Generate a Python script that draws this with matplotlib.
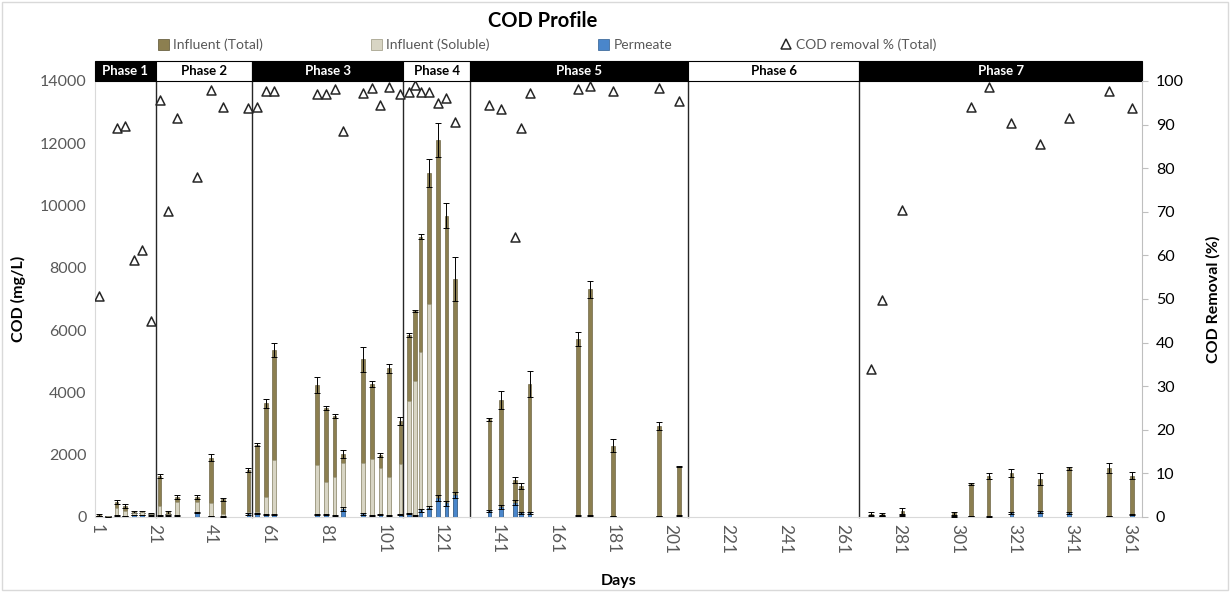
import matplotlib
matplotlib.use("Agg")
import matplotlib.pyplot as plt
import matplotlib.transforms as mtransforms
from matplotlib.patches import Rectangle
from matplotlib.lines import Line2D
import numpy as np

plt.rcParams['font.family'] = ['Lato', 'DejaVu Sans']

# ---------------- data ----------------
days = [2, 5, 8, 11, 14, 17, 20,
        23, 26, 29, 36, 41, 45, 54,
        57, 60, 63, 78, 81, 84, 87, 94, 97, 100, 103, 107,
        110, 112, 114, 117, 120, 123, 126,
        138, 142, 147, 149, 152, 169, 173, 181, 197, 204,
        271, 275, 282, 300, 306, 312, 320, 330, 340, 354, 362]
influent_total = [60, 30, 490, 350, 170, 170, 120,
                  1315, 150, 650, 650, 1900, 570, 1510,
                  2320, 3650, 5360, 4240, 3510, 3240, 2020, 5060, 4270, 1990, 4770, 3090,
                  5840, 6610, 9000, 11040, 12110, 9670, 7640,
                  3140, 3760, 1190, 1000, 4260, 5720, 7310, 2290, 2920, 1620,
                  90, 100, 190, 120, 1060, 1320, 1400, 1220, 1560, 1570, 1320]
influent_total_err = [30, 10, 60, 60, 30, 30, 20,
                      60, 40, 60, 60, 110, 50, 50,
                      50, 150, 220, 270, 60, 60, 140, 400, 110, 70, 150, 130,
                      70, 40, 80, 450, 550, 400, 700,
                      50, 280, 100, 90, 420, 230, 280, 200, 120, 30,
                      80, 40, 100, 40, 40, 100, 130, 200, 40, 170, 110]
influent_soluble = [40, 30, 290, 200, 130, 150, 100,
                    360, 100, 490, 490, 460, 100, 150,
                    150, 650, 1830, 1670, 1130, 1300, 1720, 1750, 1850, 1560, 1270, 1690,
                    3730, 4380, 5310, 6830, 500, 0, 0,
                    0, 0, 0, 0, 0, 0, 0, 0, 0, 0,
                    0, 0, 0, 0, 0, 0, 0, 0, 0, 0, 0]
permeate = [30, 10, 40, 30, 60, 60, 50,
            50, 40, 50, 140, 30, 20, 100,
            120, 80, 80, 80, 80, 60, 260, 100, 60, 80, 60, 90,
            110, 50, 210, 300, 600, 440, 700,
            190, 330, 450, 140, 140, 60, 50, 30, 30, 60,
            50, 30, 40, 20, 30, 20, 140, 170, 130, 30, 70]
permeate_err = [10, 5, 10, 10, 10, 10, 10,
                10, 10, 10, 20, 10, 10, 20,
                20, 20, 20, 20, 20, 20, 60, 20, 20, 20, 20, 20,
                20, 10, 40, 50, 100, 80, 100,
                30, 60, 80, 30, 30, 20, 10, 10, 10, 20,
                20, 10, 10, 10, 10, 10, 30, 30, 30, 10, 20]

removal_days = [2, 8, 11, 14, 17, 20,
                23, 26, 29, 36, 41, 45, 54, 57, 60, 63,
                78, 81, 84, 87, 94, 97, 100, 103, 107,
                110, 112, 114, 117, 120, 123, 126,
                138, 142, 147, 149, 152, 169, 173, 181, 197, 204,
                271, 275, 282, 306, 312, 320, 330, 340, 354, 362]
removal_pct = [50.7, 89.2, 89.6, 58.9, 61.2, 45.0,
               95.6, 70.2, 91.4, 78.0, 97.9, 94.1, 93.7, 94.0, 97.7, 97.8,
               97.0, 97.0, 98.1, 88.5, 97.2, 98.3, 94.5, 98.6, 97.0,
               97.4, 99.1, 97.4, 97.4, 95.0, 96.0, 90.7,
               94.5, 93.5, 64.3, 89.3, 97.2, 98.1, 98.9, 97.7, 98.3, 95.5,
               33.9, 49.8, 70.4, 94.1, 98.7, 90.3, 85.5, 91.4, 97.7, 93.7]

phase_names = ["Phase 1", "Phase 2", "Phase 3", "Phase 4", "Phase 5", "Phase 6", "Phase 7"]
phase_bounds = [0.5, 21.7, 55.3, 108.0, 131.3, 207.4, 267.0, 365.5]

x_ticks = list(range(1, 362, 20))

# ---------------- style ----------------
c_total = "#8C7F50"
c_sol = "#D8D5C4"
c_perm = "#4A86CB"
grey = "#595959"

fig = plt.figure(figsize=(12.31, 5.92), dpi=100)
ax = fig.add_axes([95 / 1231, 75 / 592, 1047 / 1231, 436 / 592])
ax2 = ax.twinx()

bw = 1.3
ekw = dict(ecolor="black", elinewidth=0.7, capsize=2, capthick=0.7)
ax.bar(days, influent_total, width=bw, color=c_total, edgecolor="#5a5230",
       linewidth=0.4, yerr=influent_total_err, error_kw=ekw, zorder=2)
ax.bar(days, influent_soluble, width=bw, color=c_sol, edgecolor="#9a977f",
       linewidth=0.4, zorder=3)
ax.bar(days, permeate, width=bw, color=c_perm, edgecolor="#2f5d90",
       linewidth=0.4, yerr=permeate_err, error_kw=ekw, zorder=4)

ax.set_xlim(0.5, 365.5)
ax.set_ylim(0, 14000)
ax.set_yticks(range(0, 14001, 2000))
ax.set_xticks(x_ticks)
ax.set_xticklabels([str(t) for t in x_ticks], rotation=-90, fontsize=12.5, color=grey)
ax.tick_params(axis="y", labelsize=11.5, colors=grey, length=0, pad=6)
ax.tick_params(axis="x", length=0, pad=5)
for s in ["top", "right"]:
    ax.spines[s].set_visible(False)
ax.spines["left"].set_color("#D9D9D9")
ax.spines["bottom"].set_color("#D9D9D9")

ax2.scatter(removal_days, removal_pct, marker="^", s=42, facecolors="white",
            edgecolors="#262626", linewidths=1.1, zorder=5)
ax2.set_ylim(0, 100)
ax2.set_yticks(range(0, 101, 10))
ax2.tick_params(axis="y", labelsize=11.5, colors=grey, length=4, pad=6)
for t in ax2.get_yticklabels():
    t.set_color("black")
for s in ["top", "left", "bottom"]:
    ax2.spines[s].set_visible(False)
ax2.spines["right"].set_color("#BFBFBF")
ax2.tick_params(axis="y", color="#BFBFBF")

# phase header and divider lines
trans = mtransforms.blended_transform_factory(ax.transData, ax.transAxes)
hh = 20 / 436
for i, name in enumerate(phase_names):
    x0, x1 = phase_bounds[i], phase_bounds[i + 1]
    dark = (i % 2 == 0)
    ax.add_patch(Rectangle((x0, 1.0), x1 - x0, hh, transform=trans, clip_on=False,
                           facecolor="black" if dark else "white",
                           edgecolor="black", linewidth=0.8, zorder=6))
    ax.text((x0 + x1) / 2, 1.0 + hh / 2, name, transform=trans, ha="center", va="center",
            fontsize=9.5, fontweight="bold", color="white" if dark else "black", zorder=7)
for b in phase_bounds[1:-1]:
    ax.plot([b, b], [0, 1.0], transform=trans, color="#262626", linewidth=1.0,
            clip_on=False, zorder=1)

# labels
ax.set_ylabel("COD (mg/L)", fontsize=11.5, fontweight="bold", labelpad=10)
ax2.set_ylabel("COD Removal (%)", fontsize=11.5, fontweight="bold", labelpad=16)
ax.set_xlabel("Days", fontsize=11.5, fontweight="bold", labelpad=14)
fig.text(543 / 1231, 1 - 21 / 592, "COD Profile", ha="center", va="center",
         fontsize=14.5, fontweight="bold")

handles = [Rectangle((0, 0), 1, 1, facecolor=c_total, edgecolor="#5a5230", linewidth=0.5),
           Rectangle((0, 0), 1, 1, facecolor=c_sol, edgecolor="#9a977f", linewidth=0.5),
           Rectangle((0, 0), 1, 1, facecolor=c_perm, edgecolor="#2f5d90", linewidth=0.5),
           Line2D([], [], marker="^", linestyle="none", markerfacecolor="white",
                  markeredgecolor="#262626", markersize=7, markeredgewidth=1.1)]
leg = fig.legend(handles, ["Influent (Total)", "Influent (Soluble)", "Permeate",
                           "COD removal % (Total)"],
                 loc="center", bbox_to_anchor=(547 / 1231, 1 - 45 / 592), ncol=4,
                 frameon=False, fontsize=10, columnspacing=7.8, handlelength=0.8,
                 handleheight=0.8, handletextpad=0.3)
for t in leg.get_texts():
    t.set_color(grey)

fig.add_artist(Rectangle((2 / 1231, 2 / 592), 1226 / 1231, 588 / 592,
                         transform=fig.transFigure, fill=False,
                         edgecolor="#D9D9D9", linewidth=1.0))

fig.savefig("out.png", dpi=100)
